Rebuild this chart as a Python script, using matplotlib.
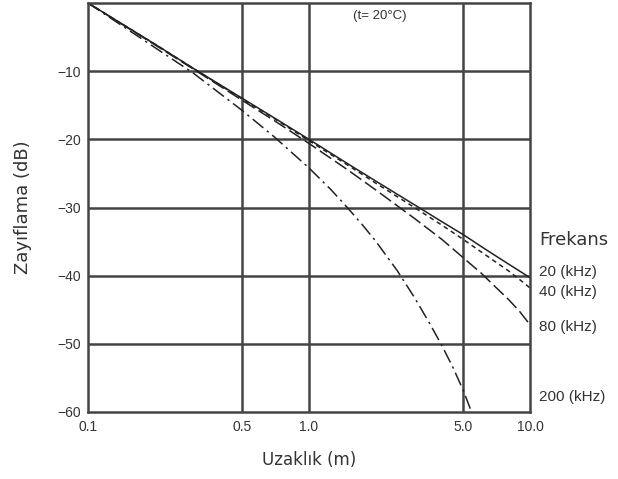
import matplotlib
matplotlib.use("Agg")
import matplotlib.pyplot as plt
import numpy as np

plt.rcParams['font.family'] = ['Liberation Sans', 'DejaVu Sans']

# distance (m) and attenuation (dB)
d_lo = [0.1, 0.2, 0.3, 0.5, 0.7, 1.0, 1.5, 2.0, 3.0, 4.0, 5.0, 6.0, 7.0, 8.0, 9.0, 10.0]
att_20 = [0, -6.0, -9.6, -14.0, -16.9, -20.0, -23.6, -26.1, -29.6, -32.1, -34.0, -35.7, -37.1, -38.3, -39.35, -40.3]
att_40 = [0, -6.0, -9.6, -14.1, -17.0, -20.2, -23.8, -26.4, -30.0, -32.6, -34.7, -36.5, -38.0, -39.3, -40.6, -41.8]
att_80 = [0, -6.1, -9.7, -14.3, -17.3, -20.6, -24.5, -27.4, -31.6, -34.7, -37.4, -39.6, -41.7, -43.5, -45.3, -47.2]

d_200 = [0.1, 0.2, 0.3, 0.5, 0.7, 1.0, 1.25, 1.5, 1.75, 2.0, 2.5, 3.0, 3.5, 4.0, 4.5, 5.0, 5.35, 5.6]
att_200 = [0, -6.5, -10.3, -15.8, -19.7, -24.2, -27.3, -30.1, -32.6, -34.9, -39.2, -43.2, -46.9, -50.3, -53.6, -56.9, -59.4, -61.2]

freq_labels = ["20 (kHz)", "40 (kHz)", "80 (kHz)", "200 (kHz)"]
label_y = [-39.4, -42.4, -47.5, -57.8]

xticks = [0.1, 0.5, 1.0, 5.0, 10.0]
xtick_labels = ["0.1", "0.5", "1.0", "5.0", "10.0"]
yticks = [-10, -20, -30, -40, -50, -60]

fig = plt.figure(figsize=(6.18, 4.79), dpi=100)
ax = fig.add_axes([0.1424, 0.1399, 0.7152, 0.8538])

grid_c = '#444444'
line_c = '#222222'
text_c = '#333333'

ax.plot(d_lo, att_20, color=line_c, lw=1.1, ls='-')
ax.plot(d_lo, att_40, color=line_c, lw=1.1, ls=(0, (3, 2.5)))
ax.plot(d_lo, att_80, color=line_c, lw=1.1, ls=(0, (9, 3)))
ax.plot(d_200, att_200, color=line_c, lw=1.1, ls=(0, (9, 3, 1.5, 3)))

ax.set_xscale('log')
ax.set_xlim(0.1, 10)
ax.set_ylim(-60, 0)
ax.set_xticks(xticks)
ax.set_xticklabels(xtick_labels)
ax.minorticks_off()
ax.set_yticks(yticks)
ax.tick_params(length=0, labelsize=10, colors=text_c)
ax.tick_params(axis='y', pad=5)
ax.tick_params(axis='x', pad=6)

for v in [0.5, 1.0, 5.0]:
    ax.axvline(v, color=grid_c, lw=1.8, zorder=0)
for v in yticks[:-1]:
    ax.axhline(v, color=grid_c, lw=1.8, zorder=0)
for s in ax.spines.values():
    s.set_color(grid_c)
    s.set_linewidth(1.8)

ax.set_xlabel('Uzaklık (m)', fontsize=12, color=text_c, labelpad=12,
              family=['DejaVu Sans'])
ax.set_ylabel('Zayıflama (dB)', fontsize=13, color=text_c, labelpad=18,
              family=['DejaVu Sans'])

ax.text(2.09, -1.9, '(t= 20°C)', fontsize=9.5, color=text_c, ha='center', va='center')
ax.text(11, -34.8, 'Frekans', fontsize=13, color=text_c, ha='left', va='center',
        clip_on=False, family=['DejaVu Sans'])
for lab, yv in zip(freq_labels, label_y):
    ax.text(11, yv, lab, fontsize=11, color=text_c, ha='left', va='center', clip_on=False)

fig.savefig('out.png', dpi=100)
